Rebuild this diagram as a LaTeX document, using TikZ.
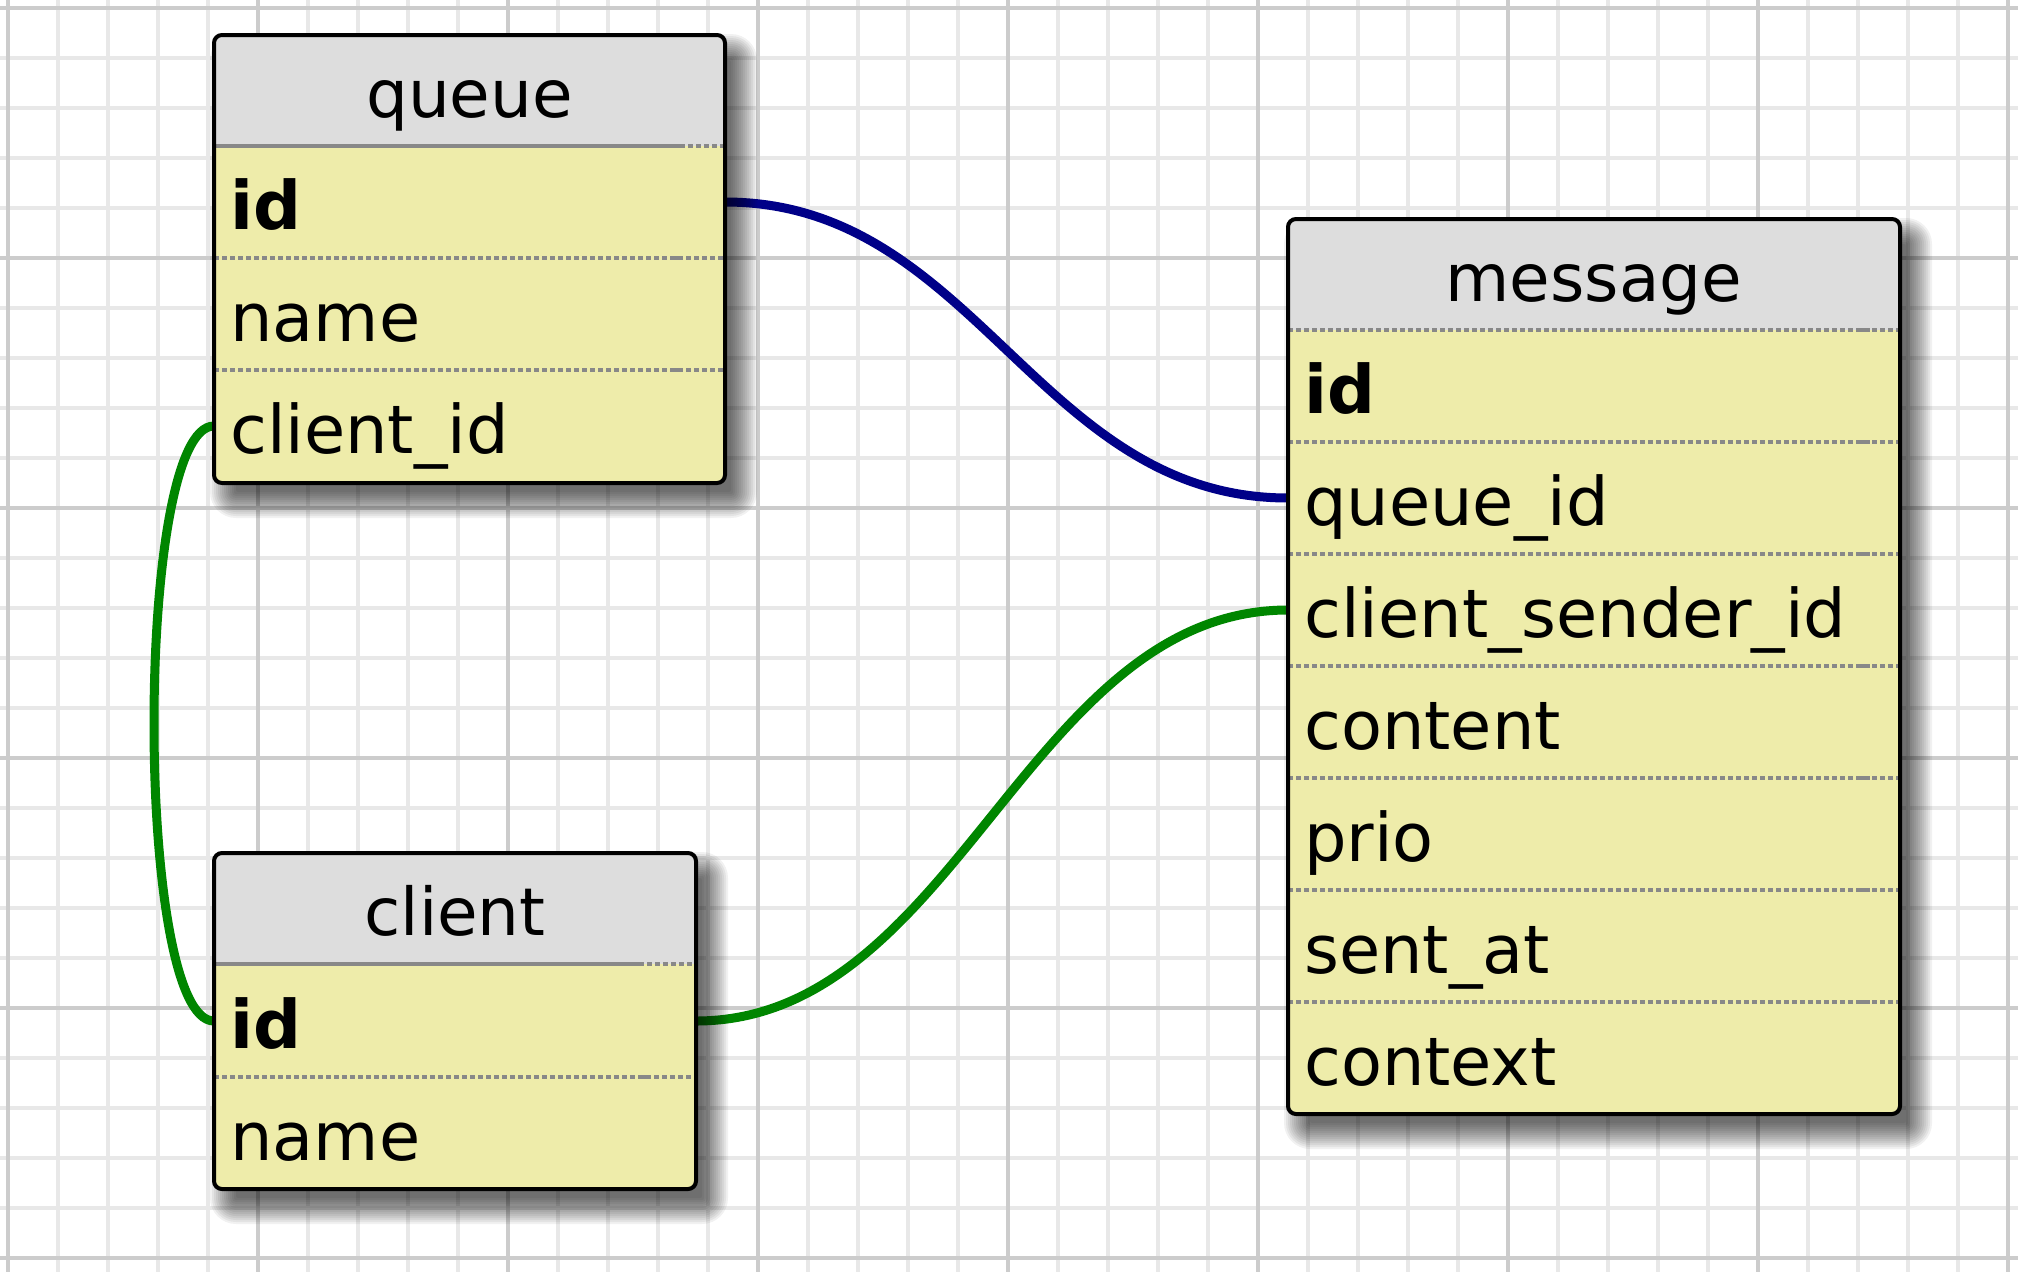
\documentclass[tikz,border=0pt]{standalone}
\usepackage{fontspec}
\setmainfont{DejaVu Sans}
\definecolor{headgray}{RGB}{221,221,221}
\definecolor{rowyellow}{RGB}{238,236,170}
\definecolor{sepgray}{RGB}{136,136,136}
\definecolor{gridminor}{RGB}{232,232,232}
\definecolor{gridmajor}{RGB}{204,204,204}
\definecolor{fknavy}{RGB}{0,0,136}
\definecolor{fkgreen}{RGB}{0,134,0}
% soft drop shadow made of stacked translucent rounded rectangles
\newcommand\erShadow[1]{%
  \foreach \e in {-8,-6,...,18} {%
    \pgfmathsetmacro\erRad{max(8+\e,2)}%
    \fill[black, opacity=0.055, rounded corners=\erRad pt]
      ([shift={(14-\e,17-\e)}]#1.north west) rectangle ([shift={(14+\e,17+\e)}]#1.south east);
  }}
\begin{document}
\begin{tikzpicture}[x=1pt,y=-1pt,
  tablebox/.style={anchor=north west, rectangle, inner sep=0pt, outer sep=0pt},
  cellbox/.style={anchor=north west, rectangle, inner sep=0pt, outer sep=0pt, minimum height=112pt},
  headbox/.style={anchor=north west, rectangle, inner sep=0pt, outer sep=0pt, minimum height=111pt},
  border/.style={draw=black, line width=4pt, rounded corners=8pt},
  fieldtext/.style={anchor=base west, inner sep=0pt, font=\fontsize{67}{72}\selectfont},
  titletext/.style={anchor=base, inner sep=0pt, font=\fontsize{66}{72}\selectfont},
  sepdot/.style={draw=sepgray, line width=3.5pt, dash pattern=on 5pt off 3pt},
  sepsolid/.style={draw=sepgray, line width=3.5pt},
  link/.style={line width=9pt}]
\useasboundingbox (0,0) rectangle (2018,1272);

% ---------- grid ----------
\fill[white] (0,0) rectangle (2018,1272);
\foreach \k in {0,...,40} {\draw[gridminor, line width=3.5pt] ({8+50*\k},0) -- ({8+50*\k},1272);}
\foreach \k in {0,...,25} {\draw[gridminor, line width=3.5pt] (0,{8+50*\k}) -- (2018,{8+50*\k});}
\foreach \k in {0,...,8} {\draw[gridmajor, line width=4.5pt] ({8+250*\k},0) -- ({8+250*\k},1272);}
\foreach \k in {0,...,5} {\draw[gridmajor, line width=4.5pt] (0,{8+250*\k}) -- (2018,{8+250*\k});}

% ---------- tables and cells (anchors) ----------
\node[tablebox, minimum width=511pt, minimum height=448pt] (queue) at (214,35) {};
\node[headbox, minimum width=511pt] (queue-head) at (214,35) {};
\node[cellbox, minimum width=511pt] (queue-id) at (214,146) {};
\node[cellbox, minimum width=511pt] (queue-name) at (214,258) {};
\node[cellbox, minimum width=511pt] (queue-clientid) at (214,370) {};

\node[tablebox, minimum width=482pt, minimum height=336pt] (client) at (214,853) {};
\node[headbox, minimum width=482pt] (client-head) at (214,853) {};
\node[cellbox, minimum width=482pt] (client-id) at (214,965) {};
\node[cellbox, minimum width=482pt] (client-name) at (214,1077) {};

\node[tablebox, minimum width=612pt, minimum height=895pt] (message) at (1288,219) {};
\node[headbox, minimum width=612pt] (message-head) at (1288,219) {};
\node[cellbox, minimum width=612pt] (message-id) at (1288,330) {};
\node[cellbox, minimum width=612pt] (message-queueid) at (1288,442) {};
\node[cellbox, minimum width=612pt] (message-clientsenderid) at (1288,554) {};
\node[cellbox, minimum width=612pt] (message-content) at (1288,666) {};
\node[cellbox, minimum width=612pt] (message-prio) at (1288,778) {};
\node[cellbox, minimum width=612pt] (message-sentat) at (1288,890) {};
\node[cellbox, minimum width=612pt] (message-context) at (1288,1002) {};

% ---------- relations ----------
\draw[link, fknavy] (queue-id.east) .. controls +(250,0) and +(-250,0) .. (message-queueid.west);
\draw[link, fkgreen] (client-id.east) .. controls +(260,0) and +(-260,0) .. (message-clientsenderid.west);
\draw[link, fkgreen] (queue-clientid.west) .. controls +(-80,0) and +(-80,0) .. (client-id.west);

% ---------- shadows ----------
\erShadow{queue}
\erShadow{client}
\erShadow{message}

% ---------- table queue ----------
\begin{scope}
\clip[rounded corners=8pt] (queue.north west) rectangle (queue.south east);
\fill[rowyellow] (queue.north west) rectangle (queue.south east);
\fill[headgray] (queue-head.north west) rectangle (queue-head.south east);
\end{scope}
\draw[sepsolid] (queue-head.south west) -- ([xshift=-45pt]queue-head.south east);
\draw[sepdot] ([xshift=-45pt]queue-head.south east) -- (queue-head.south east);
\foreach \r in {queue-id,queue-name} {
  \draw[sepdot] (\r.south west) -- (\r.south east);
  \draw[sepsolid] ([xshift=-53pt]\r.south east) -- ([xshift=-44pt]\r.south east);
}
\node[titletext] (queue-title) at ([shift={(0,82)}]queue-head.north) {queue};
\node[fieldtext] (queue-id-t) at ([shift={(16,83)}]queue-id.north west) {\textbf{id}};
\node[fieldtext] (queue-name-t) at ([shift={(16,83)}]queue-name.north west) {name};
\node[fieldtext] (queue-clientid-t) at ([shift={(16,83)}]queue-clientid.north west) {client\_id};
\draw[border] (queue.north west) rectangle (queue.south east);

% ---------- table client ----------
\begin{scope}
\clip[rounded corners=8pt] (client.north west) rectangle (client.south east);
\fill[rowyellow] (client.north west) rectangle (client.south east);
\fill[headgray] (client-head.north west) rectangle (client-head.south east);
\end{scope}
\draw[sepsolid] (client-head.south west) -- ([xshift=-57pt]client-head.south east);
\draw[sepdot] ([xshift=-57pt]client-head.south east) -- (client-head.south east);
\draw[sepdot] (client-id.south west) -- (client-id.south east);
\draw[sepsolid] ([xshift=-57pt]client-id.south east) -- ([xshift=-48pt]client-id.south east);
\node[titletext] (client-title) at ([shift={(0,82)}]client-head.north) {client};
\node[fieldtext] (client-id-t) at ([shift={(16,83)}]client-id.north west) {\textbf{id}};
\node[fieldtext] (client-name-t) at ([shift={(16,83)}]client-name.north west) {name};
\draw[border] (client.north west) rectangle (client.south east);

% ---------- table message ----------
\begin{scope}
\clip[rounded corners=8pt] (message.north west) rectangle (message.south east);
\fill[rowyellow] (message.north west) rectangle (message.south east);
\fill[headgray] (message-head.north west) rectangle (message-head.south east);
\end{scope}
\foreach \r in {message-head,message-id,message-queueid,message-clientsenderid,message-content,message-prio,message-sentat} {
  \draw[sepdot] (\r.south west) -- (\r.south east);
  \draw[sepsolid] ([xshift=-42pt]\r.south east) -- ([xshift=-30pt]\r.south east);
}
\node[titletext] (message-title) at ([shift={(0,82)}]message-head.north) {message};
\node[fieldtext] (message-id-t) at ([shift={(16,83)}]message-id.north west) {\textbf{id}};
\node[fieldtext] (message-queueid-t) at ([shift={(16,83)}]message-queueid.north west) {queue\_id};
\node[fieldtext] (message-clientsenderid-t) at ([shift={(16,83)}]message-clientsenderid.north west) {client\_sender\_id};
\node[fieldtext] (message-content-t) at ([shift={(16,83)}]message-content.north west) {content};
\node[fieldtext] (message-prio-t) at ([shift={(16,83)}]message-prio.north west) {prio};
\node[fieldtext] (message-sentat-t) at ([shift={(16,83)}]message-sentat.north west) {sent\_at};
\node[fieldtext] (message-context-t) at ([shift={(16,83)}]message-context.north west) {context};
\draw[border] (message.north west) rectangle (message.south east);
\end{tikzpicture}
\end{document}
